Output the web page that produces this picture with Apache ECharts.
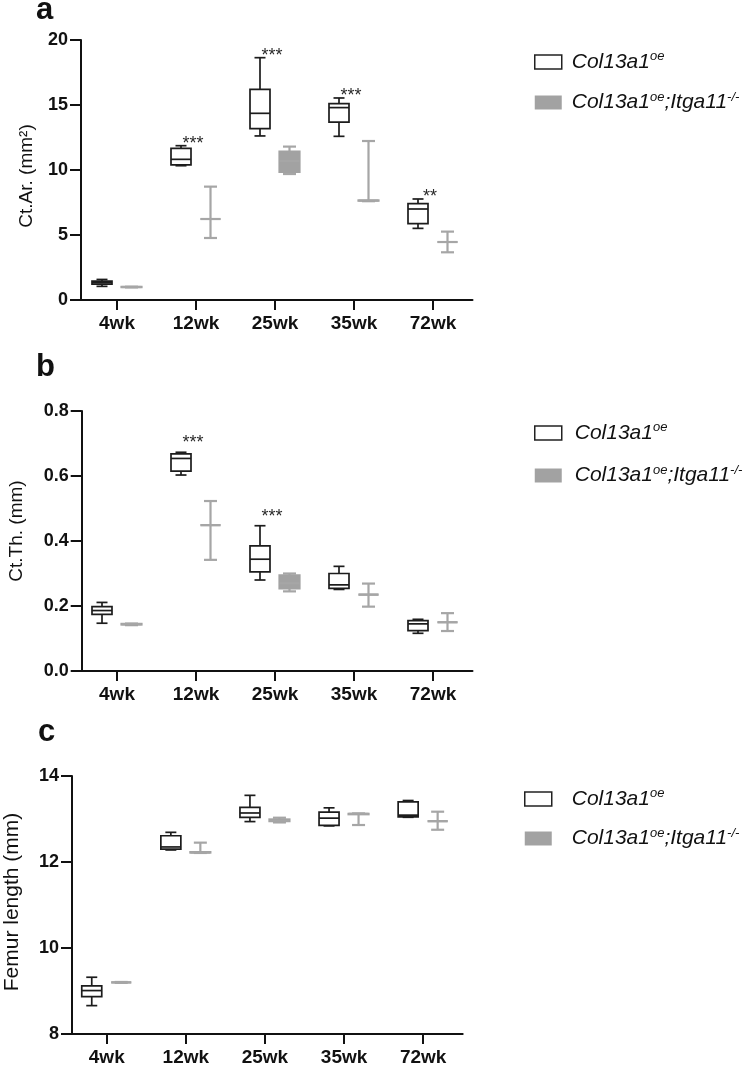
<!DOCTYPE html>
<html><head><meta charset="utf-8">
<script src="https://cdn.jsdelivr.net/npm/echarts@6/dist/echarts.min.js"></script>
<style>html,body{margin:0;padding:0;background:#fff}#c{width:749px;height:1071px}</style>
</head><body><div id="c"></div>
<script>
const FONT = '"Liberation Sans", Arial, Helvetica, sans-serif';
const categories = ['4wk', '12wk', '25wk', '35wk', '72wk'];
const seriesNames = ['Col13a1oe', 'Col13a1oe;Itga11-/-'];
// each box: [min, Q1, median, Q3, max]
const ctArOe = [[1.05,1.22,1.33,1.45,1.58],[10.33,10.4,10.82,11.67,11.87],[12.62,13.18,14.36,16.2,18.64],[12.59,13.69,14.8,15.1,15.54],[5.51,5.87,7.0,7.41,7.77]];
const ctArKo = [[0.97,0.99,1.0,1.01,1.02],[4.77,6.23,6.23,6.23,8.72],[9.69,9.85,10.7,11.41,11.8],[7.6,7.64,7.65,7.66,12.23],[3.67,4.46,4.46,4.46,5.26]];
const ctArSig = ['', '***', '***', '***', '**'];
const ctThOe = [[0.147,0.174,0.186,0.198,0.211],[0.603,0.615,0.654,0.668,0.673],[0.280,0.305,0.344,0.385,0.447],[0.251,0.254,0.265,0.300,0.322],[0.116,0.124,0.145,0.155,0.159]];
const ctThKo = [[0.141,0.143,0.144,0.145,0.146],[0.342,0.449,0.449,0.449,0.523],[0.245,0.254,0.27,0.294,0.300],[0.198,0.235,0.235,0.235,0.269],[0.123,0.150,0.150,0.150,0.178]];
const ctThSig = ['', '***', '***', '', ''];
const femOe = [[8.66,8.87,9.01,9.12,9.32],[12.28,12.30,12.35,12.61,12.69],[12.94,13.04,13.14,13.27,13.55],[12.84,12.85,13.02,13.16,13.26],[13.04,13.05,13.09,13.40,13.43]];
const femKo = [[9.19,9.20,9.20,9.20,9.21],[12.21,12.22,12.22,12.23,12.45],[12.92,12.95,12.96,12.99,13.03],[12.86,13.11,13.12,13.12,13.13],[12.75,12.95,12.95,12.95,13.17]];
const femSig = ['', '', '', '', ''];

const DARK = '#1c1c1c', GREY = '#a6a6a6', GREYFILL = '#a2a2a2';

function boxSeries(k, name, data, offset, dark, sig, starGap) {
  return {
    type: 'custom', name: name, xAxisIndex: k, yAxisIndex: k,
    itemStyle: { color: dark ? '#fff' : GREYFILL, borderColor: dark ? DARK : GREYFILL },
    data: data.map((d, i) => [i].concat(d)),
    encode: { x: 0, y: [1, 2, 3, 4, 5] },
    renderItem: function (params, api) {
      const i = api.value(0);
      const x = api.coord([i, api.value(3)])[0] + offset;
      const y = [1, 2, 3, 4, 5].map(j => api.coord([i, api.value(j)])[1]);
      const stroke = dark ? DARK : GREY;
      const lw = dark ? 1.7 : 2.2;
      const hw = 10, cw = dark ? 5.5 : 6.5;
      const ls = { stroke: stroke, lineWidth: lw };
      const ch = [
        { type: 'line', shape: { x1: x, y1: y[0], x2: x, y2: y[1] }, style: ls },
        { type: 'line', shape: { x1: x, y1: y[3], x2: x, y2: y[4] }, style: ls },
        { type: 'line', shape: { x1: x - cw, y1: y[0], x2: x + cw, y2: y[0] }, style: ls },
        { type: 'line', shape: { x1: x - cw, y1: y[4], x2: x + cw, y2: y[4] }, style: ls },
        { type: 'rect', shape: { x: x - hw, y: y[3], width: 2 * hw, height: y[1] - y[3] },
          style: { fill: dark ? '#fff' : GREYFILL, stroke: dark ? DARK : GREYFILL, lineWidth: lw } },
        { type: 'line', shape: { x1: x - hw, y1: y[2], x2: x + hw, y2: y[2] }, style: { stroke: dark ? DARK : GREY, lineWidth: lw } }
      ];
      if (sig && sig[i]) {
        ch.push({ type: 'text', x: x + 12, y: y[4] - starGap,
          style: { text: sig[i], fill: '#2a2a2a', fontSize: 18, fontFamily: FONT, align: 'center', verticalAlign: 'middle' } });
      }
      return { type: 'group', children: ch };
    }
  };
}

const grids = [
  { left: 77.5, top: 40, width: 395, height: 260, outerBoundsMode: 'none', containLabel: false },
  { left: 77.5, top: 411, width: 395, height: 260, outerBoundsMode: 'none', containLabel: false },
  { left: 67.2, top: 776, width: 395.5, height: 258, outerBoundsMode: 'none', containLabel: false }
];
const yOff = [-3.5, -4.2, -4.8];
const yCfg = [
  { min: 0, max: 20, interval: 5, name: 'Ct.Ar. (mm²)', gap: 45, size: 19, pad: [0, 12, 0, 0], fmt: v => String(v) },
  { min: 0, max: 0.8, interval: 0.2, name: 'Ct.Th. (mm)', gap: 55, size: 19, pad: [0, 0, 0, 20], fmt: v => v.toFixed(1) },
  { min: 8, max: 14, interval: 2, name: 'Femur length (mm)', gap: 49, size: 21, pad: [0, 0, 0, 6], fmt: v => String(v) }
];

const axisLine = { show: true, lineStyle: { color: '#111', width: 2 } };
const xAxes = grids.map((g, k) => ({
  type: 'category', gridIndex: k, data: categories, boundaryGap: true,
  axisLine: axisLine,
  axisTick: { show: true, alignWithLabel: true, length: 10, lineStyle: { color: '#111', width: 2 } },
  axisLabel: { color: '#111', fontSize: 19, fontWeight: 'bold', fontFamily: FONT, margin: 14 },
  splitLine: { show: false }
}));
const yAxes = yCfg.map((c, k) => ({
  type: 'value', gridIndex: k, min: c.min, max: c.max, interval: c.interval, offset: yOff[k],
  name: c.name, nameLocation: 'middle', nameGap: c.gap, nameRotate: 90,
  nameTextStyle: { color: '#111', fontSize: c.size, fontFamily: FONT, padding: c.pad },
  axisLine: axisLine,
  axisTick: { show: true, length: 11, lineStyle: { color: '#111', width: 2 } },
  axisLabel: { color: '#111', fontSize: 18, fontWeight: 'bold', fontFamily: FONT, margin: 13, formatter: c.fmt },
  splitLine: { show: false }
}));

const series = [
  boxSeries(0, seriesNames[0], ctArOe, -15, true, ctArSig, 2),
  boxSeries(0, seriesNames[1], ctArKo, 14.5, false, null, 0),
  boxSeries(1, seriesNames[0], ctThOe, -15, true, ctThSig, 9),
  boxSeries(1, seriesNames[1], ctThKo, 14.5, false, null, 0),
  boxSeries(2, seriesNames[0], femOe, -15, true, femSig, 2),
  boxSeries(2, seriesNames[1], femKo, 14.5, false, null, 0)
];

function legendCfg(left, top, gap, textGap) {
  return {
    orient: 'vertical', left: left, top: top, itemWidth: 27, itemHeight: 14, itemGap: gap,
    selectedMode: false,
    data: [
      { name: seriesNames[0], icon: 'rect', itemStyle: { color: '#fff', borderColor: '#222', borderWidth: 1.5 } },
      { name: seriesNames[1], icon: 'rect', itemStyle: { color: GREYFILL, borderColor: GREYFILL, borderWidth: 0 } }
    ],
    formatter: function (name) {
      if (name === seriesNames[0]) return '{g|}{m|Col13a1}{s|oe}';
      return '{g|}{m|Col13a1}{s|oe}{m|;Itga11}{s|-/-}';
    },
    textStyle: {
      rich: {
        g: { width: textGap },
        m: { fontSize: 21, fontStyle: 'italic', fontFamily: FONT, color: '#111', lineHeight: 24 },
        s: { fontSize: 13, fontStyle: 'italic', fontFamily: FONT, color: '#111', lineHeight: 14, verticalAlign: 'top' }
      }
    }
  };
}

const titleStyle = { fontSize: 31, fontWeight: 'bold', fontFamily: FONT, color: '#111' };
const option = {
  backgroundColor: '#fff',
  animation: false,
  title: [
    { text: 'a', left: 36, top: -5, textStyle: titleStyle, padding: 0 },
    { text: 'b', left: 36, top: 352, textStyle: titleStyle, padding: 0 },
    { text: 'c', left: 38, top: 717, textStyle: titleStyle, padding: 0 }
  ],
  grid: grids,
  xAxis: xAxes,
  yAxis: yAxes,
  legend: [legendCfg(529, 45, 18, 5), legendCfg(529, 416, 20, 8), legendCfg(519, 782, 17, 15)],
  series: series
};
const chart = echarts.init(document.getElementById('c'), null, { renderer: 'canvas' });
chart.setOption(option);
</script></body></html>
